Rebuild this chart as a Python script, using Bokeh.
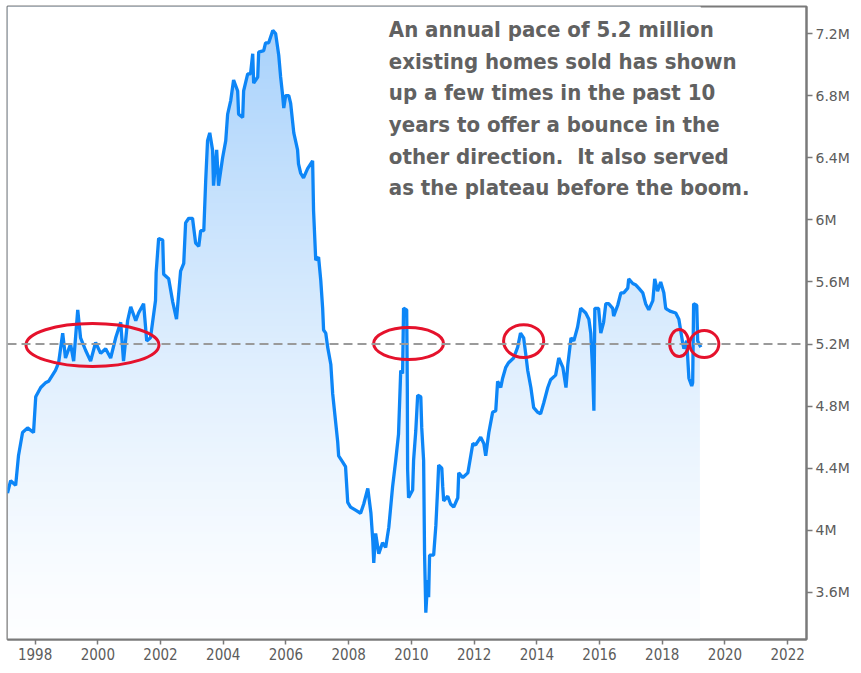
import numpy as np
from bokeh.plotting import figure
from bokeh.models import FixedTicker, CustomJSTickFormatter, Span, Label, Range1d
from bokeh.embed import file_html
from bokeh.resources import INLINE

# ---- data ----
years = [1997.12, 1997.22, 1997.38, 1997.47, 1997.60, 1997.76, 1997.95, 1998.02, 1998.18, 1998.33,
         1998.43, 1998.65, 1998.75, 1998.88, 1998.97, 1999.13, 1999.23, 1999.36, 1999.45, 1999.61,
         1999.77, 1999.93, 2000.09, 2000.25, 2000.41, 2000.57, 2000.73, 2000.82, 2000.95, 2001.05,
         2001.21, 2001.30, 2001.46, 2001.56, 2001.68, 2001.84, 2001.86, 2001.94, 2002.07, 2002.10,
         2002.26, 2002.39, 2002.51, 2002.64, 2002.74, 2002.80, 2002.90, 2003.02, 2003.12, 2003.22,
         2003.28, 2003.38, 2003.44, 2003.50, 2003.57, 2003.66, 2003.69, 2003.79, 2003.85, 2003.98,
         2004.08, 2004.14, 2004.24, 2004.33, 2004.46, 2004.49, 2004.62, 2004.65, 2004.78, 2004.87,
         2004.94, 2004.97, 2005.10, 2005.13, 2005.29, 2005.35, 2005.45, 2005.58, 2005.67, 2005.77,
         2005.83, 2005.89, 2005.93, 2005.99, 2006.09, 2006.15, 2006.25, 2006.37, 2006.40, 2006.47,
         2006.56, 2006.69, 2006.85, 2006.88, 2006.95, 2007.04, 2007.11, 2007.17, 2007.20, 2007.27,
         2007.33, 2007.43, 2007.49, 2007.65, 2007.68, 2007.81, 2007.90, 2007.97, 2008.06, 2008.22,
         2008.38, 2008.48, 2008.61, 2008.71, 2008.77, 2008.80, 2008.86, 2008.96, 2009.08, 2009.18,
         2009.28, 2009.40, 2009.50, 2009.59, 2009.66, 2009.72, 2009.75, 2009.85, 2009.87, 2009.88,
         2009.91, 2010.04, 2010.07, 2010.14, 2010.20, 2010.30, 2010.33, 2010.39, 2010.42, 2010.46,
         2010.52, 2010.55, 2010.58, 2010.71, 2010.78, 2010.84, 2010.87, 2010.97, 2011.00, 2011.03,
         2011.16, 2011.25, 2011.35, 2011.48, 2011.51, 2011.64, 2011.80, 2011.96, 2012.05, 2012.21,
         2012.31, 2012.37, 2012.47, 2012.59, 2012.69, 2012.75, 2012.85, 2012.91, 2013.01, 2013.10,
         2013.26, 2013.39, 2013.48, 2013.58, 2013.65, 2013.71, 2013.81, 2013.90, 2014.03, 2014.12,
         2014.22, 2014.35, 2014.44, 2014.60, 2014.70, 2014.83, 2014.93, 2014.99, 2015.09, 2015.18,
         2015.30, 2015.40, 2015.56, 2015.66, 2015.72, 2015.78, 2015.82, 2015.85, 2015.97, 2016.04,
         2016.13, 2016.20, 2016.29, 2016.42, 2016.45, 2016.58, 2016.68, 2016.77, 2016.90, 2016.93,
         2017.06, 2017.16, 2017.25, 2017.38, 2017.47, 2017.57, 2017.70, 2017.76, 2017.85, 2017.95,
         2018.05, 2018.11, 2018.18, 2018.27, 2018.43, 2018.53, 2018.65, 2018.69, 2018.78, 2018.85,
         2018.94, 2018.97, 2019.00, 2019.10, 2019.13, 2019.23]

sales = [4.24, 4.32, 4.29, 4.48, 4.63, 4.66, 4.63, 4.86, 4.92, 4.95,
         4.96, 5.03, 5.08, 5.27, 5.11, 5.20, 5.09, 5.42, 5.24, 5.16,
         5.09, 5.21, 5.14, 5.17, 5.11, 5.24, 5.34, 5.09, 5.35, 5.44,
         5.35, 5.40, 5.46, 5.22, 5.24, 5.48, 5.66, 5.88, 5.87, 5.65,
         5.62, 5.47, 5.36, 5.67, 5.72, 5.98, 6.01, 6.01, 5.85, 5.83,
         5.93, 5.93, 6.25, 6.51, 6.56, 6.45, 6.22, 6.45, 6.22, 6.40,
         6.51, 6.68, 6.77, 6.90, 6.83, 6.68, 6.66, 6.83, 6.94, 6.94,
         7.07, 6.88, 6.92, 7.08, 7.09, 7.14, 7.14, 7.22, 7.20, 7.06,
         6.92, 6.81, 6.72, 6.80, 6.80, 6.75, 6.56, 6.45, 6.36, 6.30,
         6.27, 6.33, 6.38, 6.06, 5.74, 5.76, 5.61, 5.43, 5.29, 5.27,
         5.18, 5.07, 4.88, 4.57, 4.48, 4.44, 4.41, 4.18, 4.15, 4.13,
         4.11, 4.17, 4.27, 4.11, 3.93, 3.79, 3.98, 3.85, 3.92, 3.89,
         4.02, 4.28, 4.45, 4.62, 5.03, 5.01, 5.43, 5.42, 4.92, 4.39,
         4.21, 4.26, 4.45, 4.64, 4.87, 4.86, 4.66, 4.45, 3.85, 3.47,
         3.68, 3.57, 3.84, 3.84, 4.03, 4.28, 4.42, 4.40, 4.28, 4.19,
         4.22, 4.17, 4.15, 4.21, 4.37, 4.34, 4.37, 4.56, 4.55, 4.60,
         4.56, 4.48, 4.63, 4.76, 4.77, 4.96, 4.92, 4.98, 5.05, 5.08,
         5.11, 5.18, 5.27, 5.24, 5.13, 5.03, 4.92, 4.79, 4.76, 4.75,
         4.82, 4.92, 4.97, 5.00, 5.11, 5.05, 4.92, 5.07, 5.24, 5.22,
         5.31, 5.43, 5.40, 5.36, 5.27, 5.03, 4.77, 5.43, 5.43, 5.27,
         5.34, 5.46, 5.46, 5.43, 5.38, 5.45, 5.53, 5.53, 5.56, 5.62,
         5.59, 5.58, 5.56, 5.53, 5.46, 5.42, 5.48, 5.62, 5.54, 5.60,
         5.53, 5.43, 5.42, 5.41, 5.40, 5.36, 5.21, 5.17, 5.22, 4.98,
         4.93, 4.95, 5.46, 5.45, 5.22, 5.18]

year_ticks = [1998, 2000, 2002, 2004, 2006, 2008, 2010, 2012, 2014, 2016, 2018, 2020, 2022]
sales_ticks = [3.6, 4.0, 4.4, 4.8, 5.2, 5.6, 6.0, 6.4, 6.8, 7.2]
plateau = 5.2

ring_years = [1999.83, 2009.91, 2013.58, 2018.54, 2019.34]
ring_sales = [5.194, 5.203, 5.219, 5.206, 5.200]
ring_widths = [4.24, 2.23, 1.28, 0.61, 0.93]
ring_heights = [0.277, 0.206, 0.212, 0.174, 0.174]

note_lines = [
    "An annual pace of 5.2 million",
    "existing homes sold has shown",
    "up a few times in the past 10",
    "years to offer a bounce in the",
    "other direction.\u00a0 It also served",
    "as the plateau before the boom.",
]

# ---- figure ----
X0, X1 = 1997.12, 2022.6
Y0, Y1 = 3.297, 7.374

p = figure(width=853, height=665, x_range=Range1d(X0, X1), y_range=Range1d(Y0, Y1),
           output_backend="svg", toolbar_location=None, y_axis_location="right",
           min_border_left=7, min_border_top=6, min_border_right=47, min_border_bottom=26)
p.background_fill_color = "white"
p.border_fill_color = "white"
p.outline_line_color = "#7a7a7a"
p.outline_line_width = 2
p.xgrid.visible = False
p.ygrid.visible = False

# gradient fill under the line: vertical gradient image, then white mask above the line
n = 300
t = (np.linspace(0.0, 1.0, n) ** 1.3)[:, None]  # 0 bottom -> 1 top
top_rgb = np.array([165, 208, 251], dtype=float)
bot_rgb = np.array([253, 254, 255], dtype=float)
img = np.empty((n, 1), dtype=np.uint32)
view = img.view(dtype=np.uint8).reshape((n, 1, 4))
for c in range(3):
    view[:, :, c] = np.round(bot_rgb[c] + (top_rgb[c] - bot_rgb[c]) * t).astype(np.uint8)
view[:, :, 3] = 255
p.image_rgba(image=[img], x=years[0], y=Y0, dw=years[-1] - years[0] - 0.03, dh=Y1 - Y0)
p.varea(x=years, y1=sales, y2=Y1, fill_color="white")

p.add_layout(Span(location=plateau, dimension="width", line_color="#9a9a9a",
                  line_width=2, line_dash="9 5"))

p.line(years, sales, line_color="#0d86f7", line_width=3.3)

p.ellipse(x=ring_years, y=ring_sales, width=ring_widths, height=ring_heights,
          fill_color=None, line_color="#e5122c", line_width=3)

# annotation text
for i, s in enumerate(note_lines):
    p.add_layout(Label(x=2009.28, y=7.225 - i * 0.2035, text=s, text_baseline="alphabetic",
                       text_font="DejaVu Sans Condensed", text_font_style="bold",
                       text_font_size="22px", text_color="#616161"))

# axes
ya = p.yaxis[0]
ya.ticker = FixedTicker(ticks=sales_ticks)
ya.formatter = CustomJSTickFormatter(code="return (Math.round(tick * 10) / 10) + 'M';")
ya.major_tick_out = 6
ya.major_tick_in = 0
ya.minor_tick_line_color = None
ya.major_tick_line_color = "#7a7a7a"
ya.major_tick_line_width = 1.5
ya.axis_line_color = "#7a7a7a"
ya.axis_line_width = 2
ya.major_label_standoff = 3
ya.major_label_text_font = "DejaVu Sans"
ya.major_label_text_font_size = "14px"
ya.major_label_text_color = "#5c5c5c"

xa = p.xaxis[0]
xa.ticker = FixedTicker(ticks=year_ticks)
xa.formatter = CustomJSTickFormatter(code="return tick.toFixed(0);")
xa.major_tick_out = 5
xa.major_tick_in = 0
xa.minor_tick_line_color = None
xa.major_tick_line_color = "#7a7a7a"
xa.major_tick_line_width = 1.5
xa.axis_line_color = "#7a7a7a"
xa.axis_line_width = 2
xa.major_label_standoff = 3
xa.major_label_text_font = "DejaVu Sans Condensed"
xa.major_label_text_font_size = "15px"
xa.major_label_text_color = "#5c5c5c"

open("out.html", "w").write(file_html(p, INLINE))
